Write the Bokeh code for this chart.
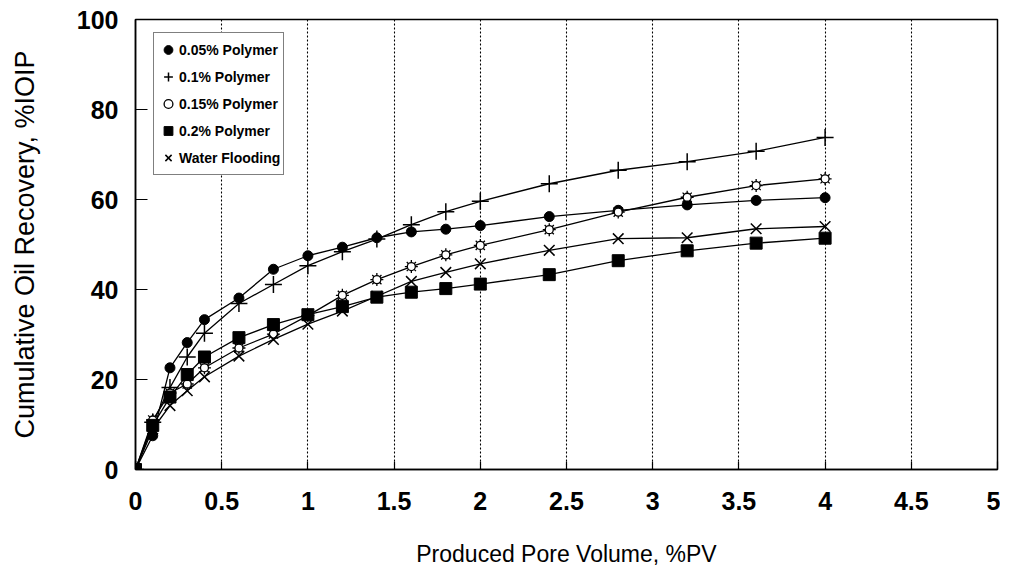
from bokeh.plotting import figure
from bokeh.models import FixedTicker, Legend, LegendItem, ColumnDataSource, Range1d
from bokeh.embed import file_html
from bokeh.resources import INLINE

# ---- data ----
pv = [0, 0.1, 0.2, 0.3, 0.4, 0.6, 0.8, 1.0, 1.2, 1.4, 1.6, 1.8, 2.0, 2.4, 2.8, 3.2, 3.6, 4.0]
poly_005 = [0, 7.5, 22.6, 28.2, 33.3, 38.1, 44.5, 47.5, 49.4, 51.5, 52.8, 53.4, 54.2, 56.2, 57.6, 58.8, 59.8, 60.4]
poly_01 = [0, 10.5, 18.2, 25.0, 30.3, 36.9, 41.1, 45.3, 48.4, 51.2, 54.4, 57.3, 59.6, 63.5, 66.5, 68.4, 70.7, 73.8]
poly_015 = [0, 11.0, 17.0, 19.0, 22.6, 27.0, 30.1, 34.2, 38.7, 42.2, 45.1, 47.7, 49.8, 53.3, 57.2, 60.5, 63.1, 64.6]
poly_02 = [0, 9.8, 16.1, 21.1, 25.0, 29.3, 32.2, 34.4, 36.2, 38.3, 39.4, 40.2, 41.2, 43.3, 46.4, 48.6, 50.3, 51.4]
water = [0, 9.0, 14.2, 17.5, 20.6, 25.2, 28.9, 32.3, 35.2, 38.5, 41.8, 43.8, 45.7, 48.7, 51.3, 51.5, 53.5, 54.0]

series_labels = ["0.05% Polymer", "0.1% Polymer", "0.15% Polymer", "0.2% Polymer", "Water Flooding"]

x_ticks = [0, 0.5, 1, 1.5, 2, 2.5, 3, 3.5, 4, 4.5, 5]
x_tick_labels = ["0", "0.5", "1", "1.5", "2", "2.5", "3", "3.5", "4", "4.5", "5"]
y_ticks = [0, 20, 40, 60, 80, 100]
x_title = "Produced Pore Volume, %PV"
y_title = "Cumulative Oil Recovery, %IOIP"

p = figure(width=1000, height=570, output_backend="svg", toolbar_location=None,
           x_range=Range1d(0, 5), y_range=Range1d(0, 100),
           min_border_left=135, min_border_right=3, min_border_top=19, min_border_bottom=101)

p.background_fill_color = "white"
p.border_fill_color = "white"
p.outline_line_color = "black"
p.outline_line_width = 1.5

# axes
p.xaxis.ticker = FixedTicker(ticks=x_ticks)
p.xaxis.major_label_overrides = {t: l for t, l in zip(x_ticks, x_tick_labels)}
p.yaxis.ticker = FixedTicker(ticks=y_ticks)
for ax in (p.xaxis[0], p.yaxis[0]):
    ax.axis_line_color = "black"
    ax.axis_line_width = 1.5
    ax.major_tick_line_color = "black"
    ax.major_tick_line_width = 1.2
    ax.major_tick_out = 0
    ax.minor_tick_line_color = None
    ax.major_label_text_font = "Liberation Sans"
    ax.major_label_text_font_style = "bold"
    ax.major_label_text_font_size = "25px"
    ax.major_label_text_color = "black"
    ax.axis_label_text_font = "Liberation Sans"
    ax.axis_label_text_font_style = "normal"
    ax.axis_label_text_color = "black"

p.xaxis.axis_label_text_font_size = "23px"
p.yaxis.axis_label_text_font_size = "27px"
p.xaxis.major_tick_in = 8
p.yaxis.major_tick_in = 12
p.xaxis.major_label_standoff = 22
p.yaxis.major_label_standoff = 17
p.xaxis.axis_label = x_title
p.yaxis.axis_label = y_title
p.xaxis.axis_label_standoff = 28
p.yaxis.axis_label_standoff = 34

# grid
p.ygrid.grid_line_color = None
p.xgrid.ticker = FixedTicker(ticks=[0.5, 1, 1.5, 2, 2.5, 3, 3.5, 4, 4.5])
p.xgrid.grid_line_color = "black"
p.xgrid.grid_line_dash = "2 2"
p.xgrid.grid_line_width = 1.1

lw = 1.3
src = ColumnDataSource(dict(x=pv, a=poly_005, b=poly_01, c=poly_015, d=poly_02, w=water))

for col in ["a", "b", "c", "d", "w"]:
    p.line("x", col, source=src, line_color="black", line_width=lw)

r_a = p.scatter("x", "a", source=src, marker="circle", size=10, fill_color="black", line_color="black")
r_b = p.scatter("x", "b", source=src, marker="cross", size=17, line_color="black", line_width=1.5)
r_c1 = p.scatter("x", "c", source=src, marker="asterisk", size=13, line_color="black", line_width=1.3)
r_c2 = p.scatter("x", "c", source=src, marker="circle", size=8, fill_color="white", line_color="black", line_width=1.3)
r_d = p.scatter("x", "d", source=src, marker="square", size=12, fill_color="black", line_color="black")
r_w = p.scatter("x", "w", source=src, marker="x", size=15, line_color="black", line_width=1.5)

items = [
    LegendItem(label=series_labels[0], renderers=[r_a]),
    LegendItem(label=series_labels[1], renderers=[r_b]),
    LegendItem(label=series_labels[2], renderers=[r_c1, r_c2]),
    LegendItem(label=series_labels[3], renderers=[r_d]),
    LegendItem(label=series_labels[4], renderers=[r_w]),
]
legend = Legend(items=items, location=(18, 294), margin=0, padding=3, spacing=0,
                label_height=27, glyph_height=27, glyph_width=22, label_standoff=0,
                label_text_font="Liberation Sans", label_text_font_style="bold",
                label_text_font_size="14px", label_text_color="black",
                border_line_color="black", border_line_width=1.2,
                background_fill_color="white", background_fill_alpha=1.0)
p.add_layout(legend, "center")

open("out.html", "w").write(file_html(p, INLINE))
